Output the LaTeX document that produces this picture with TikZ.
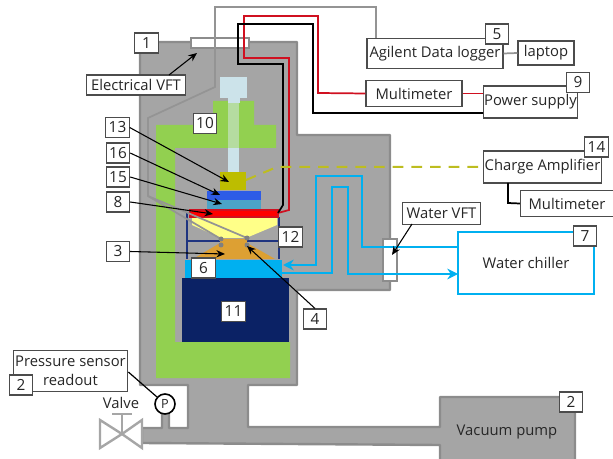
\documentclass[tikz,border=0pt]{standalone}
\usepackage{fontspec}
\setmainfont{Open Sans}
\usepackage{xcolor}
\usetikzlibrary{arrows.meta}
\definecolor{wallfill}{HTML}{A5A5A5}
\definecolor{walledge}{HTML}{8C8C8C}
\definecolor{standgreen}{HTML}{92D050}
\definecolor{waterblue}{HTML}{00B0F0}
\definecolor{framenavy}{HTML}{1F3480}
\definecolor{blocknavy}{HTML}{0B2265}
\definecolor{wirered}{HTML}{D01020}
\definecolor{platered}{HTML}{FF0000}
\definecolor{dashyellow}{HTML}{BDBD20}
\definecolor{textgrey}{HTML}{262626}
\definecolor{rodblue}{HTML}{CCE3EA}
\definecolor{rodgreen}{HTML}{B5DCA0}
\definecolor{coneorange}{HTML}{DDA033}
\definecolor{coneyellow}{HTML}{FFFF88}
\definecolor{olivemass}{HTML}{BDBD00}
\definecolor{layerblue}{HTML}{2E5CE6}
\definecolor{layerteal}{HTML}{4BA3C7}
\tikzset{
  numbox/.style={draw=black!70,line width=.8pt,fill=white,text=textgrey,minimum width=17.5pt,minimum height=15pt,inner sep=0pt,font=\fontsize{11.5}{13}\selectfont},
  namebox/.style={draw=black!70,line width=.8pt,fill=white,text=textgrey,inner sep=0pt,align=center,font=\fontsize{11.1}{14}\selectfont},
  plaintext/.style={text=textgrey,inner sep=0pt,font=\fontsize{11.1}{13}\selectfont},
  wall/.style={fill=wallfill,draw=walledge,line width=1.8pt,line join=round},
  vftbox/.style={fill=white,draw=walledge,line width=1.6pt,inner sep=0pt},
  redwire/.style={draw=wirered,line width=1.3pt},
  blackwire/.style={draw=black,line width=1.3pt},
  greywire/.style={draw=black!42,line width=1.3pt},
  waterline/.style={draw=waterblue,line width=2pt},
  pointer/.style={-{Stealth[length=6.5pt,width=5.5pt]},black,line width=.8pt},
}
\begin{document}
\begin{tikzpicture}[x=0.75pt,y=-0.75pt]
\useasboundingbox (0,0) rectangle (613,459);
% chamber and pump
\draw[wall] (140,42)--(297,42)--(297,135)--(390,135)--(390,290)--(297,290)--(297,385)--(248,385)--(248,427)--(440,427)--(440,397)--(575,397)--(575,470)--(440,470)--(440,445)--(142,443)--(142,428)--(162,428)--(162,412)--(169,412)--(169,428)--(188,428)--(188,385)--(140,385)--cycle;
% support
\fill[standgreen] (156,125)--(213,125)--(213,101)--(254,101)--(254,125)--(276,125)--(276,148)--(175,148)--(175,342)--(290,342)--(290,378)--(156,378)--cycle;
\fill[blocknavy] (182,278) rectangle (289,342);
% feed rod
\fill[rodblue] (220,77) rectangle (247,98);
\fill[rodblue] (228,98) rectangle (240,103);
\fill[rodgreen] (228,103) rectangle (239,148);
\fill[rodblue] (228,148) rectangle (239,172);
% sample stack
\fill[coneyellow] (192,218)--(277,218)--(277,225)--(246,238)--(221,238)--(192,225)--cycle;
\fill[coneorange] (220,239)--(247,239)--(247,243)--(275,259)--(193,259)--(220,243)--cycle;
\draw[framenavy,line width=1.8pt] (187,213)--(187,259) (279,217)--(279,259) (187,241)--(220,241) (247,241)--(279,241);
\fill[waterblue] (185,260) rectangle (282,278);
\fill[olivemass] (220,172) rectangle (246,190);
\fill[layerblue] (207,191) rectangle (261,200);
\fill[layerteal] (207,200) rectangle (261,210);
\draw[fill=platered,draw=wirered,line width=.8pt] (190,210) rectangle (278,217);
% feedthroughs
\node[vftbox,minimum width=43pt,minimum height=8pt] (elecVft) at (220,43) {};
\node[vftbox,minimum width=10pt,minimum height=32pt] (waterVft) at (390,260) {};
% text boxes
\node[namebox,minimum width=102pt,minimum height=23pt] (logger) at (435,53.5) {Agilent Data logger};
\node[namebox,minimum width=42pt,minimum height=18pt] (laptop) at (546,53) {laptop};
\node[namebox,minimum width=72pt,minimum height=19pt] (multiTop) at (414,93.5) {Multimeter};
\node[namebox,minimum width=71pt,minimum height=24pt] (psu) at (530.5,102) {Power supply};
\node[namebox,minimum width=89pt,minimum height=24pt] (chargeAmp) at (542.5,167) {Charge Amplifier};
\node[namebox,minimum width=70pt,minimum height=19pt] (multiLow) at (567,203.5) {Multimeter};
\node[namebox,minimum width=59pt,minimum height=16pt] (waterLabel) at (441.5,213.5) {Water VFT};
\node[namebox,minimum width=74pt,minimum height=15pt] (elecLabel) at (136,85) {Electrical VFT};
\node[namebox,draw=waterblue,line width=2pt,minimum width=102pt,minimum height=46.5pt] (chiller) at (526,263) {Water chiller};
\node[namebox,minimum width=86pt,minimum height=31pt] (sensorBox) at (70.5,371) {Pressure sensor\\readout};
\node[plaintext] (pumpText) at (507,432) {Vacuum pump};
\node[plaintext] (valveText) at (121,403) {Valve};
\node[draw=black,line width=1.2pt,circle,fill=white,minimum size=15pt,inner sep=0pt,text=textgrey,font=\fontsize{9.5}{10}\selectfont] (pGauge) at (165,404) {P};
% valve
\coordinate (valveMid) at (122,434);
\draw[draw=black!35,fill=white,line width=1.8pt] (100,420)--(100,448)--(valveMid)--cycle;
\draw[draw=black!35,fill=white,line width=1.8pt] (142,420)--(142,448)--(valveMid)--cycle;
\draw[draw=black!35,line width=1.8pt] (valveMid)--(122,414) (112,414)--(132,414);
% electrical wires
\coordinate (stackTop) at (278,213);
\coordinate (psuBlack) at (483,113);
\coordinate (dotA) at (221,239);
\coordinate (dotB) at (247,238);
\coordinate (dotC) at (221,245);
\coordinate (dotD) at (247,245);
\draw[redwire] (multiTop.west)--(318,93)--(318,16)--(244,16)--(244,58)--(289,58)--(289,210)--(stackTop);
\draw[redwire] (multiTop.east)--(multiTop.east -| psu.west);
\draw[blackwire] (psuBlack)--(313,113)--(313,24)--(238,24)--(238,64)--(283,64)--(283,205)--(stackTop);
\draw[greywire] (376,38)--(376,7)--(215,7)--(215,87)--(148,118)--(148,196)--(dotA);
\draw[greywire] (148,196)--(dotB);
\draw[greywire] (logger.east)--(laptop.west);
\draw[blackwire] (508,183)--(508,203)--(multiLow.west);
\fill[black!50] (dotA) circle (2.5) (dotB) circle (2.5) (dotC) circle (2.5) (dotD) circle (2.5);
% charge signal
\draw[dashyellow,line width=1.5pt,dash pattern=on 8pt off 6pt] (246,180)--(277,167)--(chargeAmp.west);
% cooling water
\coordinate (chillerOut) at (458,247);
\coordinate (chillerIn) at (458,274);
\draw[waterline,-{Stealth[length=8pt,width=8pt]}] (chillerOut)--(362,247)--(362,176)--(316,176)--(316,265)--(283,265);
\draw[waterline,-{Stealth[length=8pt,width=8pt]}] (282,273)--(332,273)--(332,187)--(348,187)--(348,274)--(chillerIn);
% link to gauge
\draw[black,line width=.9pt] (sensorBox.east |- 0,372)--(pGauge);
% number boxes
\node[numbox] (n1) at (146.5,43) {1};
\node[numbox] (n10) at (205,123.5) {10};
\node[numbox] (n13) at (117.5,127.5) {13};
\node[numbox] (n16) at (118,153) {16};
\node[numbox] (n15) at (118,177) {15};
\node[numbox] (n8) at (118,202) {8};
\node[numbox] (n3) at (118,251.5) {3};
\node[numbox] (n12) at (290.5,237) {12};
\node[numbox] (n6) at (203.5,268) {6};
\node[numbox] (n11) at (233.5,311.5) {11};
\node[numbox] (n4) at (315,319) {4};
\node[numbox] (n5) at (497,34) {5};
\node[numbox] (n9) at (578,82.5) {9};
\node[numbox] (n14) at (596.5,147) {14};
\node[numbox] (n7) at (585,236) {7};
\node[numbox] (n2pump) at (571,402) {2};
\node[numbox] (n2sensor) at (21,385) {2};
% pointers
\coordinate (elecTip) at (197,53);
\coordinate (waterTip) at (392,255);
\coordinate (oliveTip) at (229,182);
\coordinate (blueTip) at (220,195);
\coordinate (tealTip) at (222,204);
\coordinate (redTip) at (213,214);
\coordinate (coneTip) at (225,254);
\coordinate (dotTip) at (247,246);
\draw[pointer] (169,75)--(elecTip);
\draw[pointer] (412,224)--(waterTip);
\draw[pointer] (n13.east)--(oliveTip);
\draw[pointer] (n16.east)--(blueTip);
\draw[pointer] (n15.east)--(tealTip);
\draw[pointer] (n8.east)--(redTip);
\draw[pointer] (n3.east)--(coneTip);
\draw[pointer] (n4.north)--(dotTip);
\end{tikzpicture}
\end{document}
